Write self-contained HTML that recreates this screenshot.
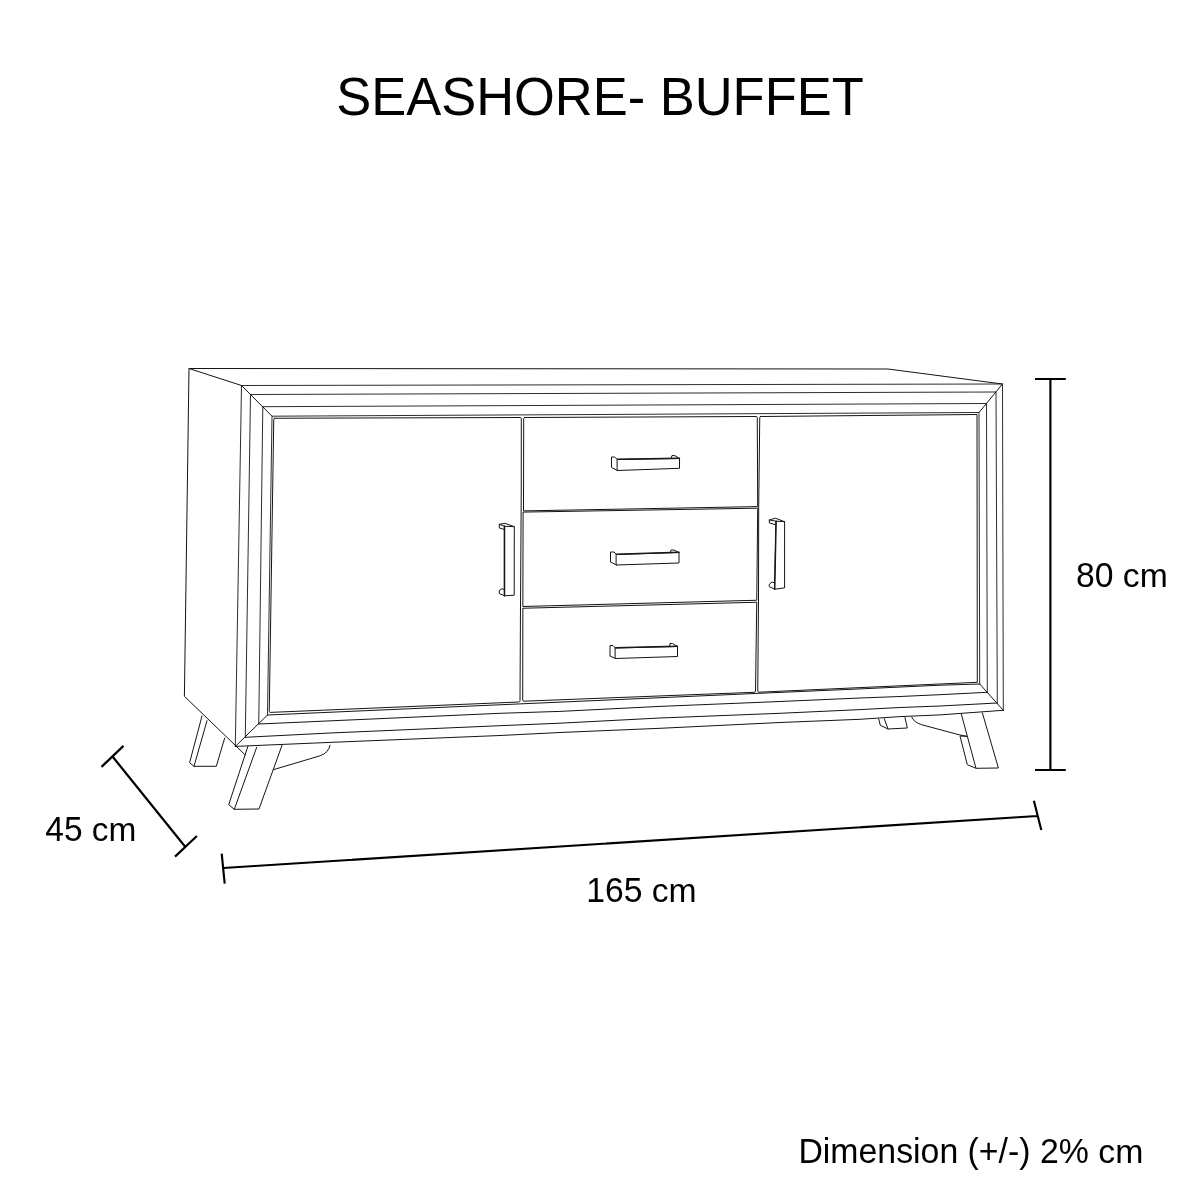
<!DOCTYPE html>
<html lang="en">
<head>
<meta charset="utf-8">
<title>SEASHORE- BUFFET</title>
<style>
html,body{margin:0;padding:0;background:#fff;}
body{width:1200px;height:1200px;overflow:hidden;position:relative;font-family:"Liberation Sans",sans-serif;color:#000;}
svg{position:absolute;left:0;top:0;display:block;}
text{font-family:"Liberation Sans",sans-serif;fill:#000;}
.t{font-size:52.47px;}
.d{font-size:33.7px;}
.e{font-size:33.83px;}
.l{fill:none;stroke:#141414;stroke-width:1;stroke-linecap:round;stroke-linejoin:round;}
.m{stroke-width:0.9;}
.h{fill:none;stroke:#181818;stroke-width:1.5;stroke-linecap:round;}
.k{fill:none;stroke:#000;stroke-width:2.15;stroke-linecap:butt;}
</style>
</head>
<body>
<svg width="1200" height="1200" viewBox="0 0 1200 1200">
<rect width="1200" height="1200" fill="#fff"/>
<g id="labels" opacity="0.999">
<text class="t" transform="translate(336.2 114.5) scale(1 1.04)">SEASHORE- BUFFET</text>
<text class="d" transform="translate(1076 586.8) scale(1 1.04)">80 </text>
<text class="d" transform="translate(1122.83 586.8) scale(1 0.985)">cm</text>
<text class="d" style="font-size:33.45px" transform="translate(45.3 840.6) scale(1 1.04)">45 </text>
<text class="d" style="font-size:33.45px" transform="translate(91.78 840.6) scale(1 0.985)">cm</text>
<text class="d" transform="translate(586.2 902) scale(1 1.04)">165 </text>
<text class="d" transform="translate(651.76 902) scale(1 0.985)">cm</text>
<text class="e" transform="translate(798.4 1162.5) scale(1 1.015)">Dimension </text>
<text class="e" transform="translate(967.6 1162.5) scale(1 1.04)">(+/-) 2% </text>
<text class="e" transform="translate(1098.24 1162.5) scale(1 0.985)">cm</text>
</g>

<!-- dimension lines -->
<g class="k">
<path d="M1035 379H1065.8M1050.4 379V770M1035 770H1065.8"/>
<path d="M101.5 766.9L123.5 745.9M112.5 756.5L185 846.5M175 856.6L196.9 836"/>
<path d="M221.7 853.7L224.7 883.7M223.2 868L1037.3 816M1033.9 800.7L1041.3 830"/>
</g>

<!-- cabinet body -->
<g class="l" id="body">
<path d="M241.5 385.5L189 368.5L888 369L1002.5 384"/>
<path d="M189 368.5L184.4 696.3L245.3 755"/>
<path class="m" d="M235.3 746.4L241.5 385.5L1002.5 384L1003.3 710.3"/>
<path class="m" d="M245.3 737.3L250.5 394.5L996 392L997.3 703"/>
<path class="m" d="M258.75 724L262.8 406.7L986.5 403.5L987.3 692.3"/>
<path class="m" d="M267.5 715L272 416.2L979 412.5L979.7 684"/>
<path d="M235.3 746.4L330 742.4L500 735.5L560 732.5L660 728.3L780 722.5L860 719.3L900 716.6L940 714.9L1003.3 710.3"/>
<path d="M245.3 737.3L330 733L500 725.7L560 723.2L660 718L780 713.3L860 709.6L900 707.5L940 706L997.3 703"/>
<path d="M258.75 724L310 721.75L500 713.3L560 711.4L660 706.4L780 701.5L860 698L900 696.5L940 694.7L987.3 692.3"/>
<path d="M267.5 715L520 703.9L757 693.4L860 688.9L940 685.2L979.7 684"/>
<path d="M241.5 385.5L272 416.2M1002.5 384L979 412.5M1003.3 710.3L979.7 684M235.3 746.4L267.5 715"/>
</g>

<!-- doors and drawers -->
<g class="l" id="fronts">
<path d="M274.75 418.25L520.3 417.5Q521.3 417.5 521.3 418.5L521.25 490L520.5 606L520 700.7Q520 701.9 518.8 702L270.4 712.4Q269.2 712.5 269.25 711.3L273.75 419.25Q273.75 418.25 274.75 418.25Z"/>
<path d="M524.7 417.5L756.2 416.5Q757.25 416.5 757.25 417.5L757.7 506.6L523.5 510.9L523.7 418.5Q523.7 417.5 524.7 417.5Z"/>
<path d="M523.5 512.1L757.7 508.2L756.75 600.25L523.25 606.5Z"/>
<path d="M523.25 608.25L756.75 602.25L755.5 691.2Q755.5 692.2 754.3 692.3L523.9 701.2Q522.7 701.25 522.7 700.2Z"/>
<path d="M760.75 416.5L977 414.5L977.3 682.3L759 692.2Q757.75 692.25 757.75 691.2L758.5 600L758.7 507L759.75 417.5Q759.75 416.5 760.75 416.5Z"/>
</g>

<!-- handles -->
<g class="l" id="handles">
<path d="M617.5 459.5L679.5 458.5L679.5 468.3L617.5 470.5ZM617.5 459.5L614.5 457L611.5 457L611.5 467.5L617.5 470.5M671 458.5L672 455.5L675 455.7L679.5 458.5"/>
<path d="M616.5 554.5L679 552.5L679 563L616.5 565ZM616.5 554.5L614 552L610.5 552L610.5 562L616.5 565M670.5 552.8L671 550L674 550L679 552.5"/>
<path d="M615.5 648L677.5 646.5L677.5 656.5L615.5 658.5ZM615.5 648L613 645.5L610 645.5L610 656L615.5 658.5M669.5 646.6L670 643.5L672.5 643.5L677.5 646.5"/>
<path d="M504.6 526.2L514.3 526.7L514.2 595.2L504.6 595.8ZM504.6 526.2L499.3 524.3L505 523.3L514.3 526.7M499.3 524.3L499.3 528L504.6 529.5M504.6 595.8L499.3 593.6L499.3 590.4L502 588.8L504.6 589.5"/>
<path d="M776.2 521.2L784.6 521.7L784.6 587.9L774.8 589.2ZM776.2 521.2L769.3 520L775.4 518.2L784.6 521.7M769.3 520L769.3 522.9L775.9 524.8M774.8 589.2L769.3 586.7L769.3 584.2L772 582L774.9 583"/>
<path class="h" d="M617.5 459.3L679.5 458.3M616.5 554.3L679 552.3M615.5 647.8L677.5 646.3"/>
<path class="h" style="stroke-width:1.3" d="M504.6 526.2L504.6 595.8M776.2 521.2L774.8 589.2"/>
</g>

<!-- legs -->
<g class="l" id="legs">
<path d="M202 716L189.6 762.7L194 766.3L216.3 766.3L224.7 738M207 720.7L194 766.3"/>
<path d="M247.9 746.3L228.7 804.7L234.3 809.3L259 809L282 745.3M256.7 747.3L234.3 809.3"/>
<path d="M273.7 769.6L320 755.8Q328.5 753 330 745.3"/>
<path d="M961.3 714L976 768.3L998.4 768L982.4 713M966.7 736.3L960 736L967.3 764.7L976 768.3"/>
<path d="M911.7 717.2Q914 722.2 921.5 724.7L960 735L966.7 736.3"/>
<path d="M878.7 719L880.3 725.3L888 729L907.3 728L905 717.6M884.3 718.7L888 729"/>
</g>
</svg>
</body>
</html>
